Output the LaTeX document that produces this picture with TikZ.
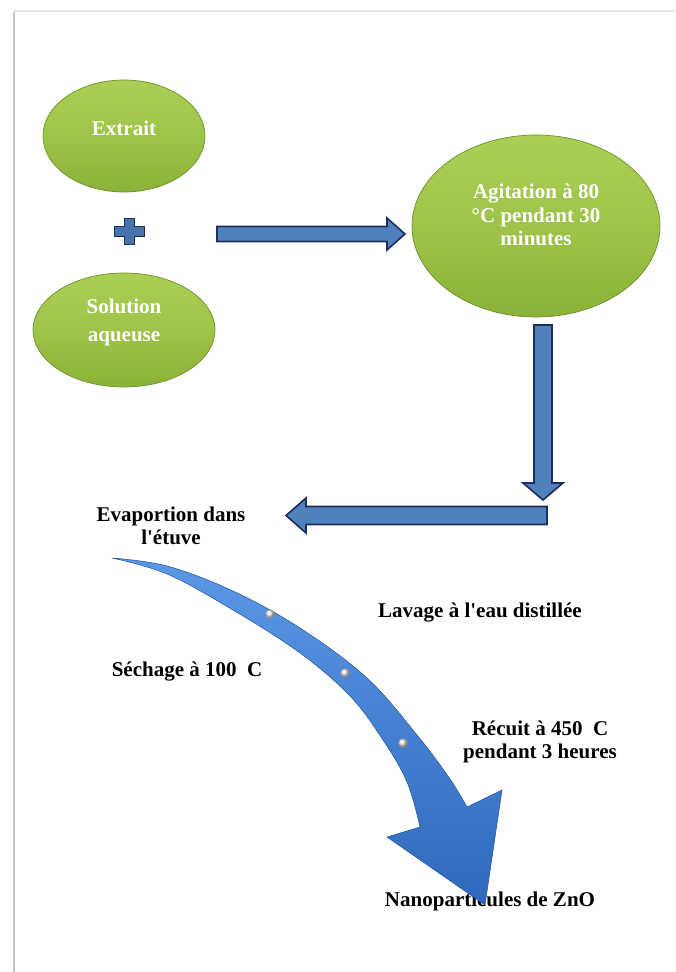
\documentclass[tikz,border=0pt]{standalone}
\usepackage{fontspec}
\setmainfont{Liberation Serif}
\usetikzlibrary{shapes.geometric}
\definecolor{navy}{HTML}{1F2D5C}
\definecolor{boxblue}{HTML}{4F81BD}
\definecolor{gtop}{HTML}{AACF55}
\definecolor{gbot}{HTML}{8BB238}
\definecolor{gedge}{HTML}{6F8F2A}
\definecolor{ctop}{HTML}{5A98E6}
\definecolor{cbot}{HTML}{2F68BC}
\tikzset{
  greenell/.style={ellipse, inner sep=0pt, top color=gtop, bottom color=gbot, middle color=gtop!60!gbot, draw=gedge, line width=0.7pt},
  wtext/.style={text=white, font=\fontsize{21}{24}\selectfont\bfseries, align=center, inner sep=0pt},
  btext/.style={text=black, font=\fontsize{21}{23}\selectfont\bfseries, align=center, inner sep=0pt},
  blockarrow/.style={fill=boxblue, draw=navy, line width=1.6pt, line join=miter},
  curvearrow/.style={top color=ctop, bottom color=cbot, draw=cbot!80!black, line width=0.5pt},
  bead/.style={circle, inner sep=0pt, minimum size=9pt, ball color=white!85!gray, draw=gray!70, line width=0.3pt}
}
\begin{document}
\begin{tikzpicture}[x=1pt,y=-1pt]
\useasboundingbox (0,0) rectangle (675,972);
\fill[white] (0,0) rectangle (675,972);
% page frame
\draw[gray!45, line width=2pt] (14,12) -- (14,972);
\draw[gray!20, line width=1.5pt] (14,11) -- (675,11);

% green ellipses
\node[greenell, minimum width=162pt, minimum height=112pt] (extrait) at (124,136) {};
\node[wtext] (textrait) at ([yshift=8pt]extrait.center) {Extrait};
\node[greenell, minimum width=182pt, minimum height=114pt] (solution) at (124,330) {};
\node[wtext, font=\fontsize{21}{28}\selectfont\bfseries] (tsolution) at ([yshift=8pt]solution.center) {Solution\\aqueuse};
\node[greenell, minimum width=248pt, minimum height=182pt] (agit) at (536,226) {};
\node[wtext, font=\fontsize{21}{23.5}\selectfont\bfseries] (tagit) at ([yshift=11pt]agit.center) {Agitation à 80\\°C pendant 30\\minutes};

% plus sign
\coordinate (plus) at (129,231);
\draw[fill=boxblue!90!black, draw=navy, line width=1pt]
  (plus) ++(-5,-13) -- ++(10,0) -- ++(0,8) -- ++(10,0) -- ++(0,10) -- ++(-10,0) -- ++(0,8)
  -- ++(-10,0) -- ++(0,-8) -- ++(-10,0) -- ++(0,-10) -- ++(10,0) -- cycle;

% block arrows
\coordinate (r1) at (217,234);
\draw[blockarrow] (r1) ++(0,-7.5) -- ++(170,0) -- ++(0,-8.5) -- ++(18,16) -- ++(-18,16) -- ++(0,-8.5) -- ++(-170,0) -- cycle;
\coordinate (d1) at (543,325);
\draw[blockarrow] (d1) ++(-9,0) -- ++(0,158) -- ++(-11,0) -- ++(20,17) -- ++(20,-17) -- ++(-11,0) -- ++(0,-158) -- cycle;
\coordinate (l1) at (547,515.5);
\draw[blockarrow] (l1) ++(0,-9) -- ++(-241,0) -- ++(0,-8.5) -- ++(-20,17.5) -- ++(20,17.5) -- ++(0,-8.5) -- ++(241,0) -- cycle;

% texts
\node[btext] (evap) at (171,526) {Evaportion dans\\l\textquotesingle étuve};
\node[btext] (lavage) at (480,613) {Lavage à l\textquotesingle eau distillée};
\node[btext] (sechage) at (187,672) {Séchage à 100\ \ C};
\node[btext] (recuit) at (540,742) {Récuit à 450\ \ C\\pendant 3 heures};
\node[btext] (nano) at (490,901) {Nanoparticules de ZnO};

% curved arrow
\path[curvearrow]
  plot[smooth, tension=0.6] coordinates {(112,558) (167,566) (233,591) (300,628) (367,678) (417,735) (450,779) (467,807)}
  -- (502,790) -- (485,905) -- (387,837) --
  plot[smooth, tension=0.6] coordinates {(420,827) (407,782) (383,740) (350,696) (300,653) (233,610) (167,574) (112,558)}
  -- cycle;
\node[bead] (b1) at (270,614) {};
\node[bead] (b2) at (345,673) {};
\node[bead] (b3) at (403,743) {};
\end{tikzpicture}
\end{document}
